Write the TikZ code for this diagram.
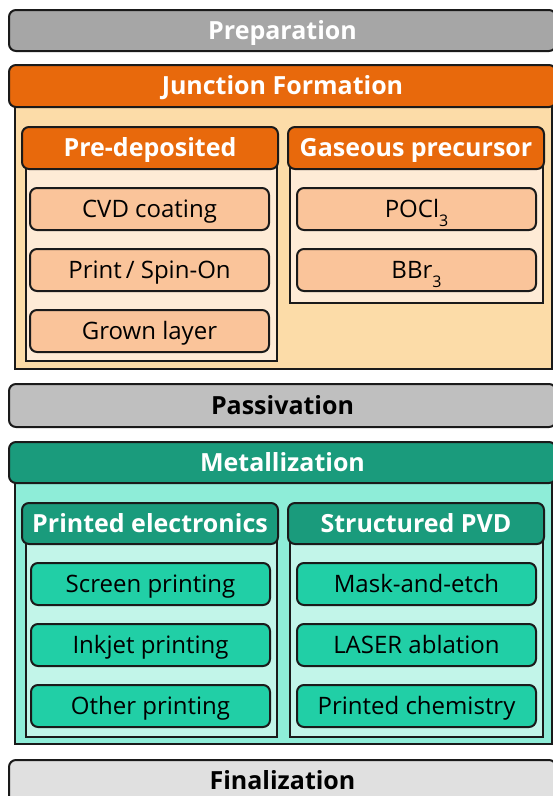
\documentclass[tikz,border=0pt]{standalone}
\usepackage{fontspec}
\setmainfont{Open Sans}
\definecolor{prepgray}{HTML}{A6A6A6}
\definecolor{passgray}{HTML}{BFBFBF}
\definecolor{fingray}{HTML}{E0E0E0}
\definecolor{jorange}{HTML}{E8690C}
\definecolor{jbody}{HTML}{FCDCA8}
\definecolor{jsub}{HTML}{FEEBD6}
\definecolor{jitem}{HTML}{FAC49A}
\definecolor{mteal}{HTML}{1A9B7C}
\definecolor{mbody}{HTML}{8EEDD8}
\definecolor{msub}{HTML}{C2F5E9}
\definecolor{mitem}{HTML}{21CFA6}
\definecolor{edge}{HTML}{1A1A1A}
\tikzset{
  base/.style={draw=edge, line width=2pt, inner sep=0pt, outer sep=0pt, text height=17.4pt, text depth=0pt},
  hdr/.style={base, rounded corners=7pt, font=\fontsize{25}{28}\selectfont\bfseries},
  bodybox/.style={base, rectangle},
  itembox/.style={base, rounded corners=7pt, minimum width=239pt, minimum height=42pt, font=\fontsize{24}{28}\selectfont},
}
\newcommand{\sbs}[1]{\raisebox{-0.35em}{\fontsize{16}{16}\selectfont #1}}
\begin{document}
\begin{tikzpicture}[x=1pt,y=-1pt]
\useasboundingbox (0,0) rectangle (553,796);
\clip (0,0) rectangle (553,796);
\fill[white] (0,0) rectangle (553,796);
% Preparation
\node[hdr, fill=prepgray, text=white, minimum width=547pt, minimum height=41pt] (prep) at (282.5,30.5) {Preparation};
% Junction formation
\node[bodybox, fill=jbody, minimum width=537pt, minimum height=269pt] (jbodyn) at (283.5,234.5) {};
\node[hdr, fill=jorange, text=white, minimum width=547pt, minimum height=42pt] (junc) at (282.5,86) {Junction Formation};
\node[bodybox, fill=jsub, minimum width=251pt, minimum height=201pt] (predb) at (151.5,260.5) {};
\node[hdr, fill=jorange, text=white, minimum width=256pt, minimum height=42pt] (pred) at (150,148) {Pre-deposited};
\node[bodybox, fill=jsub, minimum width=253pt, minimum height=143pt] (gasb) at (416.5,231.5) {};
\node[hdr, fill=jorange, text=white, minimum width=256pt, minimum height=42pt] (gas) at (416,148) {Gaseous precursor};
\node[itembox, fill=jitem] (cvd) at (149.5,209) {CVD coating};
\node[itembox, fill=jitem] (print) at (149.5,270) {Print\,/ Spin-On};
\node[itembox, fill=jitem] (grown) at (149.5,331) {Grown layer};
\node[itembox, fill=jitem] (pocl) at (416.5,209) {POCl\sbs{3}};
\node[itembox, fill=jitem] (bbr) at (416.5,270) {BBr\sbs{3}};
% Passivation
\node[hdr, fill=passgray, text=black, minimum width=547pt, minimum height=43pt] (pass) at (282.5,405.5) {Passivation};
% Metallization
\node[bodybox, fill=mbody, minimum width=537pt, minimum height=269pt] (mbodyn) at (283.5,609.5) {};
\node[hdr, fill=mteal, text=white, minimum width=547pt, minimum height=41pt] (metal) at (282.5,462.5) {Metallization};
\node[bodybox, fill=msub, minimum width=251pt, minimum height=202pt] (pelb) at (151.5,636) {};
\node[hdr, fill=mteal, text=white, minimum width=256pt, minimum height=41pt] (pel) at (150,523.5) {Printed electronics};
\node[bodybox, fill=msub, minimum width=253pt, minimum height=202pt] (pvdb) at (416.5,636) {};
\node[hdr, fill=mteal, text=white, minimum width=256pt, minimum height=41pt] (pvd) at (416,523.5) {Structured PVD};
\node[itembox, fill=mitem] (screen) at (150.5,584) {Screen printing};
\node[itembox, fill=mitem] (inkjet) at (150.5,645) {Inkjet printing};
\node[itembox, fill=mitem] (other) at (150.5,706) {Other printing};
\node[itembox, fill=mitem] (mask) at (416.5,584) {Mask-and-etch};
\node[itembox, fill=mitem] (laser) at (416.5,645) {LASER ablation};
\node[itembox, fill=mitem] (chem) at (416.5,706) {Printed chemistry};
% Finalization
\node[base, rounded corners=7pt, fill=fingray, minimum width=547pt, minimum height=60pt] (fin) at (282.5,790) {};
\node[font=\fontsize{25}{28}\selectfont\bfseries, text=black, inner sep=0pt, text height=17.8pt, text depth=0pt] (fintext) at (282.5,781) {Finalization};
\end{tikzpicture}
\end{document}
